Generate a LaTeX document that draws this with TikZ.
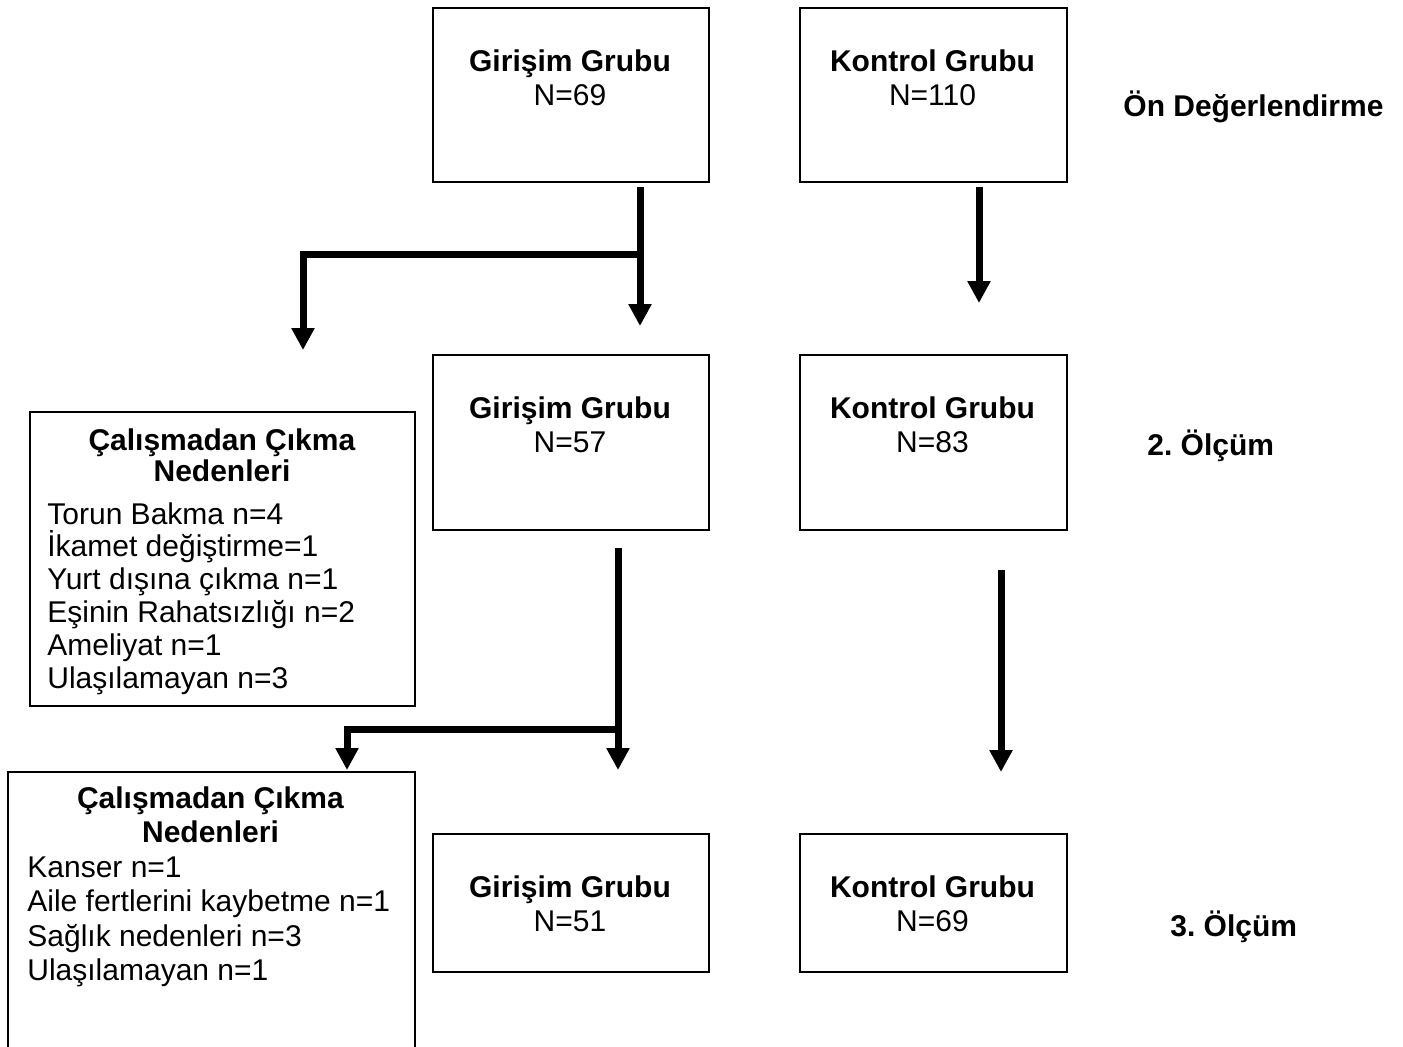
\documentclass[tikz,border=0pt]{standalone}
\usepackage{fontspec}
\setmainfont{Liberation Sans}
\usetikzlibrary{arrows.meta}
\frenchspacing
\begin{document}
\begin{tikzpicture}[x=0.5pt,y=-0.5pt,
  box/.style={draw, line width=1pt, inner sep=0pt, anchor=north west},
  arr/.style={line width=3.5pt, -{Triangle[width=11pt,length=11pt]}},
  txt/.style={inner sep=0pt, font=\fontsize{15}{17.25}\selectfont},
]
\clip (0,0) rectangle (1403,1046);
\fill[white] (0,0) rectangle (1403,1046);

% boxes
\node[box, minimum width=138pt, minimum height=87pt] (g1) at (432,7) {};
\node[box, minimum width=133.5pt, minimum height=87pt] (k1) at (799,7) {};
\node[box, minimum width=138pt, minimum height=87.5pt] (g2) at (432,354) {};
\node[box, minimum width=133.5pt, minimum height=87.5pt] (k2) at (799,354) {};
\node[box, minimum width=192.5pt, minimum height=147pt] (r1) at (29,411) {};
\node[box, minimum width=138pt, minimum height=69pt] (g3) at (432,833) {};
\node[box, minimum width=133.5pt, minimum height=69pt] (k3) at (799,833) {};
\node[box, minimum width=203.5pt, minimum height=150pt] (r2) at (7,771) {};

% box texts
\node[txt, anchor=base] (g1t) at (570,71) {\parbox[t]{130pt}{\centering\textbf{Girişim Grubu}\\N=69}};
\node[txt, anchor=base] (k1t) at (932.5,71) {\parbox[t]{130pt}{\centering\textbf{Kontrol Grubu}\\N=110}};
\node[txt, anchor=base] (g2t) at (570,418) {\parbox[t]{130pt}{\centering\textbf{Girişim Grubu}\\N=57}};
\node[txt, anchor=base] (k2t) at (932.5,418) {\parbox[t]{130pt}{\centering\textbf{Kontrol Grubu}\\N=83}};
\node[txt, anchor=base] (g3t) at (570,897) {\parbox[t]{130pt}{\centering\textbf{Girişim Grubu}\\N=51}};
\node[txt, anchor=base] (k3t) at (932.5,897) {\parbox[t]{130pt}{\centering\textbf{Kontrol Grubu}\\N=69}};

\node[txt, anchor=base] (r1h) at (222,450) {\parbox[t]{180pt}{\fontsize{15}{15.5}\selectfont\centering\textbf{Çalışmadan Çıkma}\\\textbf{Nedenleri}}};
\node[txt, anchor=base west] (r1l) at (47,524) {\parbox[t]{180pt}{\fontsize{15}{16.4}\selectfont\raggedright Torun Bakma n=4\\İkamet değiştirme=1\\Yurt dışına çıkma n=1\\Eşinin Rahatsızlığı n=2\\Ameliyat n=1\\Ulaşılamayan n=3}};

\node[txt, anchor=base] (r2h) at (210.5,808) {\parbox[t]{190pt}{\centering\textbf{Çalışmadan Çıkma}\\\textbf{Nedenleri}}};
\node[txt, anchor=base west] (r2l) at (27,877) {\parbox[t]{190pt}{\raggedright Kanser n=1\\Aile fertlerini kaybetme n=1\\Sağlık nedenleri n=3\\Ulaşılamayan n=1}};

% stage labels
\node[txt, anchor=base west] (s1) at (1123,116) {\textbf{Ön Değerlendirme}};
\node[txt, anchor=base west] (s2) at (1147,455) {\textbf{2. Ölçüm}};
\node[txt, anchor=base west] (s3) at (1170,936) {\textbf{3. Ölçüm}};

% connectors
\coordinate (j1) at ([xshift=34.5pt,yshift=-35.5pt]g1.south);
\draw[arr] ([xshift=34.5pt,yshift=-2pt]g1.south) -- ([xshift=34.5pt,yshift=14pt]g2.north);
\draw[arr] (j1) -| ([xshift=40.25pt,yshift=30.5pt]r1.north);
\draw[arr] ([xshift=22.75pt,yshift=-2pt]k1.south) -- ([xshift=22.75pt,yshift=25.5pt]k2.north);

\coordinate (j2) at ([xshift=23.5pt,yshift=-99pt]g2.south);
\draw[arr] ([xshift=23.5pt,yshift=-8.5pt]g2.south) -- ([xshift=23.5pt,yshift=31.5pt]g3.north);
\draw[arr] (j2) -| ([xshift=67.75pt,yshift=0.5pt]r2.north);
\draw[arr] ([xshift=33.75pt,yshift=-19.5pt]k2.south) -- ([xshift=33.75pt,yshift=30.5pt]k3.north);
\end{tikzpicture}
\end{document}
